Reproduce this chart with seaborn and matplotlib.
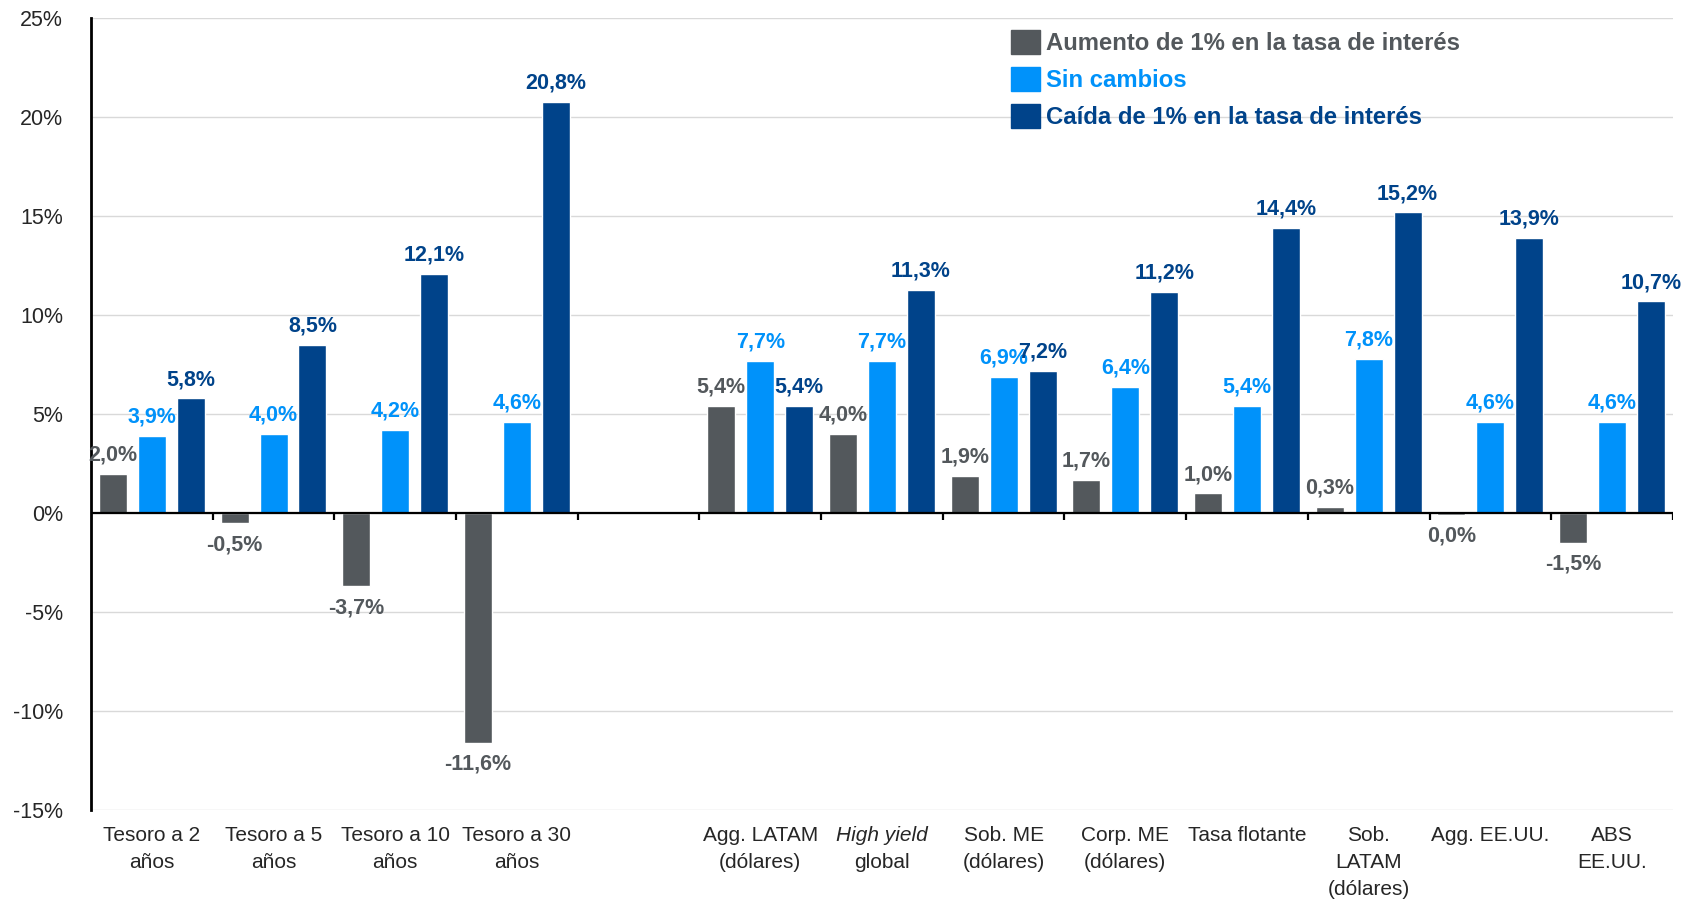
import matplotlib
matplotlib.use('Agg')
import matplotlib.pyplot as plt
import matplotlib.patches as mpatches
import matplotlib.transforms as mtransforms
import numpy as np
import pandas as pd
import seaborn as sns

# Data
categories = ["Tesoro a 2\naños", "Tesoro a 5\naños", "Tesoro a 10\naños", "Tesoro a 30\naños", " ",
              "Agg. LATAM\n(dólares)", "High yield\nglobal", "Sob. ME\n(dólares)", "Corp. ME\n(dólares)",
              "Tasa flotante", "Sob.\nLATAM\n(dólares)", "Agg. EE.UU.", "ABS\nEE.UU."]
series = ["Aumento de 1% en la tasa de interés", "Sin cambios", "Caída de 1% en la tasa de interés"]
aumento = [2.0, -0.5, -3.7, -11.6, np.nan, 5.4, 4.0, 1.9, 1.7, 1.0, 0.3, -0.08, -1.5]
sin_cambios = [3.9, 4.0, 4.2, 4.6, np.nan, 7.7, 7.7, 6.9, 6.4, 5.4, 7.8, 4.6, 4.6]
caida = [5.8, 8.5, 12.1, 20.8, np.nan, 5.4, 11.3, 7.2, 11.2, 14.4, 15.2, 13.9, 10.7]
y_ticks = [-15, -10, -5, 0, 5, 10, 15, 20, 25]

colors = ["#53585c", "#0092fa", "#00438a"]

df = pd.DataFrame({
    "cat": categories * 3,
    "serie": [series[0]] * 13 + [series[1]] * 13 + [series[2]] * 13,
    "valor": aumento + sin_cambios + caida,
}).dropna()

sns.set_style("white")
plt.rcParams['font.family'] = ['Liberation Sans', 'DejaVu Sans']

fig = plt.figure(figsize=(17.01, 9.07), dpi=100)
ax = fig.add_axes([0.0535, 0.1069, 0.930, 0.8728])

sns.barplot(data=df, x="cat", y="valor", hue="serie", order=categories, hue_order=series,
            palette=colors, width=0.96, gap=0.28, saturation=1, ax=ax, legend=False, errorbar=None)

ax.set_ylim(-15, 25)
ax.set_xlim(-0.5, len(categories) - 0.5)
ax.set_yticks(y_ticks)
ax.set_yticklabels([f"{t}%" for t in y_ticks], fontsize=15.5)
ax.tick_params(axis='y', length=0, pad=20)
ax.yaxis.grid(True, color="#d9d9d9", linewidth=1)
ax.set_axisbelow(True)
ax.set_xlabel("")
ax.set_ylabel("")
for s in ["top", "right", "bottom"]:
    ax.spines[s].set_visible(False)
ax.spines["left"].set_color("black")
ax.spines["left"].set_linewidth(2)

# zero line with small ticks at slot boundaries
ax.axhline(0, color="black", linewidth=1.6, zorder=3)
bounds = np.arange(-0.5, len(categories), 1.0)
ax.vlines(bounds, -0.35, 0, color="black", linewidth=1.6, zorder=3)

# x labels as text
ax.set_xticks([])
trans = mtransforms.blended_transform_factory(ax.transData, ax.transAxes)
for i, c in enumerate(categories):
    if c.startswith("High yield"):
        ax.text(i, -0.02, "High yield", transform=trans, ha="center", va="top",
                fontsize=15, style="italic", linespacing=1.55)
        ax.text(i, -0.02, "\nglobal", transform=trans, ha="center", va="top",
                fontsize=15, linespacing=1.55)
    else:
        ax.text(i, -0.02, c, transform=trans, ha="center", va="top", fontsize=15, linespacing=1.55)

# value labels
for container, col in zip(ax.containers, colors):
    for bar in container:
        h = bar.get_height()
        if np.isnan(h):
            continue
        x = bar.get_x() + bar.get_width() / 2
        shown = 0.0 if abs(h) < 0.1 else round(h, 1)
        txt = f"{shown:.1f}".replace(".", ",") + "%"
        if h >= 0:
            ax.annotate(txt, (x, h), xytext=(0, 6), textcoords="offset points",
                        ha="center", va="bottom", color=col, fontsize=15.5, fontweight="bold")
        else:
            ax.annotate(txt, (x, h), xytext=(0, -8), textcoords="offset points",
                        ha="center", va="top", color=col, fontsize=15.5, fontweight="bold")

handles = [mpatches.Patch(color=c, label=s) for c, s in zip(colors, series)]
fig.legend(handles=handles, loc="upper left", bbox_to_anchor=(0.589, 0.978), frameon=False,
           prop={"weight": "bold", "size": 17.2}, labelcolor=colors, handlelength=1.2,
           handleheight=1.2, handletextpad=0.25, labelspacing=0.5, borderaxespad=0)

fig.savefig("out.png", dpi=100)
